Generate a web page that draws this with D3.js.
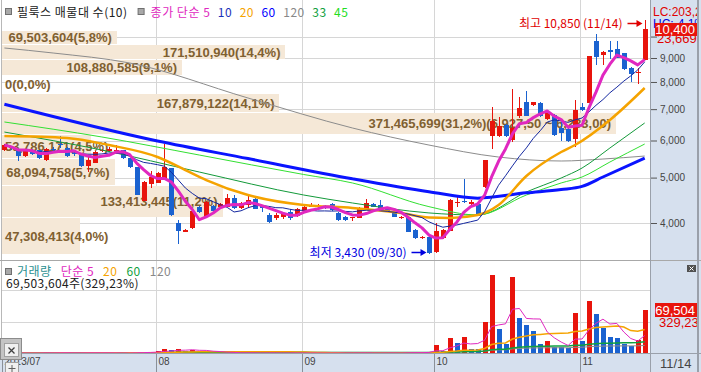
<!DOCTYPE html>
<html>
<head>
<meta charset="utf-8">
<script src="https://cdn.jsdelivr.net/npm/d3@7/dist/d3.min.js"></script>
<style>
  body { margin: 0; background: #fff; }
  svg { display: block; }
</style>
</head>
<body>
<svg id="chart" width="701" height="372"></svg>
<script>
// daily candles, [open, high, low, close]
const candles = [
  [5726, 5900, 5700, 5870], [5800, 5850, 5720, 5760], [5720, 5740, 5420, 5560], [5560, 5740, 5540, 5720],
  [5700, 5720, 5590, 5610], [5720, 5740, 5480, 5500], [5450, 5770, 5430, 5750], [5760, 5800, 5700, 5720],
  [5900, 6120, 5790, 5880], [5770, 5800, 5540, 5560], [5640, 5680, 5560, 5620], [5590, 5600, 5280, 5290],
  [5290, 5590, 5150, 5450], [5380, 5700, 5370, 5680], [5680, 5750, 5660, 5720], [5690, 5800, 5670, 5760],
  [5720, 5870, 5660, 5740], [5720, 5740, 5480, 5500], [5500, 5510, 5250, 5260], [5260, 5270, 4580, 4590],
  [4460, 4910, 4450, 4900], [4840, 5160, 4740, 5010], [4880, 5140, 4860, 5120], [4980, 5900, 4970, 5270],
  [5230, 5250, 4150, 4160], [4000, 4060, 3610, 3840], [3830, 3880, 3820, 3866], [3900, 4280, 3890, 4240],
  [4320, 4350, 4200, 4220], [4120, 4460, 4100, 4440], [4340, 4360, 4220, 4240], [4330, 4420, 4320, 4400],
  [4330, 4620, 4320, 4520], [4520, 4600, 4290, 4300], [4300, 4430, 4290, 4410], [4370, 4600, 4300, 4480],
  [4510, 4540, 4290, 4300], [4350, 4380, 4230, 4300], [4160, 4200, 4000, 4020], [4100, 4200, 4060, 4160],
  [4130, 4230, 4070, 4210], [4230, 4280, 4060, 4100], [4140, 4300, 4130, 4280], [4250, 4350, 4240, 4330],
  [4330, 4420, 4320, 4380], [4330, 4400, 4300, 4350], [4350, 4380, 4290, 4320], [4390, 4410, 4240, 4260],
  [4200, 4220, 4040, 4060], [4130, 4150, 4040, 4060], [4090, 4120, 4040, 4110], [4100, 4320, 4090, 4300],
  [4300, 4510, 4290, 4420], [4400, 4420, 4320, 4340], [4380, 4480, 4250, 4260], [4300, 4330, 4220, 4230],
  [4230, 4240, 4110, 4130], [4090, 4140, 4080, 4120], [4120, 4130, 3820, 3830], [3860, 3880, 3690, 3710],
  [3720, 3760, 3700, 3740], [3740, 3760, 3430, 3455], [3460, 4000, 3450, 3840], [3710, 3890, 3690, 3866],
  [3850, 4500, 3840, 4480], [4410, 4570, 4330, 4440], [4460, 4960, 4420, 4450], [4400, 4470, 4380, 4440],
  [4400, 4420, 4140, 4150], [4780, 5460, 4740, 5450], [6135, 7060, 5750, 6590], [6150, 6750, 6100, 6450],
  [6470, 6500, 6100, 6135], [6020, 7720, 5950, 6380], [6760, 7420, 6700, 7030], [7260, 7650, 6760, 6790],
  [7120, 7260, 7100, 7240], [7230, 7250, 6740, 6770], [6660, 6880, 6640, 6860], [6800, 6820, 6140, 6160],
  [6370, 6580, 6000, 6230], [6350, 6370, 5970, 5990], [6030, 7320, 5810, 6970], [7080, 7200, 6950, 6980],
  [7230, 9100, 7200, 9090], [9780, 10150, 8700, 9030], [9140, 9300, 8700, 9290], [9360, 9790, 8960, 9260],
  [9390, 9800, 8980, 8990], [9210, 9230, 8500, 8520], [8560, 8600, 8000, 8320], [8360, 8580, 7920, 8420],
  [8920, 10850, 8900, 10400]
];

// daily volume, thousand shares
const volumes = [
  1800, 1200, 2000, 1500, 1300, 1900, 2400, 1600, 2200, 1700, 1100, 2300, 2000, 2600, 1400, 1200,
  1800, 1500, 2100, 3000, 2500, 3200, 4000, 7500, 6000, 8000, 4500, 7000, 3500, 5000,
  2000, 1600, 2400, 1800, 1500, 2200, 1400, 1300, 2600, 1500, 1200, 1900, 1600, 2000, 1400, 1100,
  1500, 1700, 2300, 1600, 1300, 1800, 2200, 1500, 1200, 1700, 2100, 1400, 2900, 2400, 1800, 3600,
  14000, 4000, 24500, 16700, 26000, 7300, 7200, 50500, 123000, 39000, 16000, 121000, 56800, 45000,
  35400, 15000, 20000, 11500, 11400, 8800, 64600, 20800, 82800, 63000, 41000, 26600, 25500, 15600,
  12500, 21111, 69503.604
];

// first trading day of each month shown on the time axis
const monthTicks = [['2013/07', 0], ['08', 22], ['09', 43], ['10', 62], ['11', 83]];
const lastDate = '11/14';
const highDate = '11/14';
const lowDate = '09/30';

// volume at price (매물대), 10 bands from the highest close down
const bandVolumes = [69503604, 171510940, 108880585, 0, 167879122, 371465699, 53786171, 68094758, 133413445, 47308413];

// longer moving averages, [day index, price]
const ma20 = [[0, 6135], [9, 6075], [15, 5868], [22, 5532], [26, 5190], [29, 4941], [35, 4590], [43, 4370],
  [50, 4307], [57, 4200], [61, 4110], [64, 4100], [68, 4160], [71, 4370], [75, 5040], [80, 5670], [82, 5868],
  [87, 6637], [92, 7767]];
const ma33 = [[0, 6255], [14, 5726], [28, 5139], [43, 4590], [50, 4414], [61, 4203], [68, 4160], [75, 4659],
  [80, 4990], [83, 5241], [87, 5783], [92, 6540]];
const ma45 = [[0, 6572], [14, 6105], [28, 5587], [43, 5077], [50, 4870], [61, 4335], [68, 4160], [75, 4590],
  [80, 4870], [83, 5015], [87, 5398], [92, 5897]];
const ma60 = [[0, 7170], [22, 5985], [35, 5490], [50, 4970], [61, 4665], [68, 4520], [75, 4640], [80, 4715],
  [83, 4790], [86, 5015], [92, 5505]];
const ma120 = [[0, 9454], [7, 9224], [18, 8782], [35, 7394], [50, 6381], [61, 5868], [71, 5532], [80, 5425],
  [86, 5478], [92, 5559]];

const priceTicks = [4000, 5000, 6000, 7000, 8000, 9000, 10000];
const sideNote = '23,669';

// ---------------------------------------------------------------------------
const W = 701;
const H = 372;
const plotRight = 651;
const priceBottom = 258;
const volTop = 261;
const volBottom = 354;

const red = '#e8140c';
const blue = '#1a62d0';
const magenta = '#e028c0';
const orange = '#f5a300';
const gridColor = '#d6d6d6';
const panelColor = '#d6e0ee';
const numFont = '"Liberation Sans Narrow", "Arial Narrow", "Liberation Sans", sans-serif';
const krFont = '"Liberation Sans Narrow", "Noto Sans CJK KR", sans-serif';

const fmt = d3.format(',');
const dec = (v, n) => v.toFixed(n).replace('.', ',');
const fmt2 = v => d3.format(',.2f')(v).replace(/\.(\d+)$/, ',$1');
const sma = (vals, n) => vals.map((_, i) => d3.mean(vals.slice(Math.max(0, i - n + 1), i + 1)));

const x = d3.scaleLinear().domain([0, candles.length - 1]).range([4.4, 644.7]);
const y = d3.scaleLog().domain([3368, 11969]).range([priceBottom, 0]);
const yv = d3.scaleLinear().domain([0, 100000]).range([volBottom, 290]);
const cx = i => Math.round(x(i));

const svg = d3.select('#chart');
const defs = svg.append('defs');
defs.append('clipPath').attr('id', 'clip-price')
  .append('rect').attr('x', 2).attr('y', 0).attr('width', plotRight - 2).attr('height', priceBottom);
defs.append('clipPath').attr('id', 'clip-vol')
  .append('rect').attr('x', 2).attr('y', volTop).attr('width', plotRight - 2).attr('height', volBottom - volTop);
defs.append('clipPath').attr('id', 'clip-side')
  .append('rect').attr('x', plotRight).attr('y', 0).attr('width', 46).attr('height', volBottom);

// backgrounds
svg.append('rect').attr('width', W).attr('height', H).attr('fill', '#fff');
svg.append('rect').attr('x', plotRight).attr('width', W - plotRight).attr('height', H).attr('fill', panelColor);
svg.append('rect').attr('y', volBottom).attr('width', W).attr('height', H - volBottom).attr('fill', panelColor);

// grid
const gridX = monthTicks.slice(1).map(d => cx(d[1]) - 2 + 0.5);
const grid = svg.append('g').attr('stroke', gridColor).attr('shape-rendering', 'crispEdges');
grid.selectAll('.vx')
    .data(gridX)
  .enter().append('line')
    .attr('x1', d => d).attr('x2', d => d)
    .attr('y1', 0).attr('y2', volBottom);
grid.selectAll('.hy')
    .data(priceTicks)
  .enter().append('line')
    .attr('x1', 2).attr('x2', plotRight)
    .attr('y1', d => Math.round(y(d)) + 0.5).attr('y2', d => Math.round(y(d)) + 0.5);
grid.selectAll('.hv')
    .data([50000, 100000])
  .enter().append('line')
    .attr('x1', 2).attr('x2', plotRight)
    .attr('y1', d => Math.round(yv(d)) + 0.5).attr('y2', d => Math.round(yv(d)) + 0.5);

// volume at price bands
const closes = candles.map(d => d[3]);
const cTop = d3.max(closes);
const cBottom = d3.min(closes);
const step = (cTop - cBottom) / bandVolumes.length;
const total = d3.sum(bandVolumes);
const maxBand = d3.max(bandVolumes);
const bw = d3.scaleLinear().domain([0, maxBand]).range([0, 614]);
const bands = bandVolumes.map((v, k) => ({ v, hi: cTop - k * step, lo: cTop - (k + 1) * step }));

const bandG = svg.append('g').attr('clip-path', 'url(#clip-price)');
bands.forEach((b) => {
  const y0 = Math.round(y(b.hi)) + 2;
  const y1 = Math.round(y(b.lo)) + 1;
  const right = 2 + bw(b.v);
  if (b.v > 0) {
    bandG.append('rect')
        .attr('x', 2).attr('y', y0)
        .attr('width', bw(b.v)).attr('height', y1 - y0)
        .attr('fill', '#f5e8d7')
        .attr('shape-rendering', 'crispEdges');
  }
  let label = `${fmt(b.v)}(${dec(b.v / total * 100, 1)}%)`;
  if (b.v === maxBand) label += `(${fmt2(b.hi)} ~ ${fmt2(b.lo)})`;
  const t = bandG.append('text')
      .attr('y', (y0 + y1) / 2 + 4.5)
      .attr('fill', '#806030')
      .style('font-family', '"Liberation Sans", Arial, sans-serif')
      .style('font-size', '13px')
      .style('font-weight', 'bold')
      .text(label);
  const w = t.node().getComputedTextLength();
  if (right - 5 - w < 3) t.attr('x', 5);
  else t.attr('x', right - 5).attr('text-anchor', 'end');
});

// candles
const candleG = svg.append('g').attr('clip-path', 'url(#clip-price)').attr('shape-rendering', 'crispEdges');
const c = candleG.selectAll('g')
    .data(candles)
  .enter().append('g')
    .attr('fill', d => (d[3] >= d[0] ? red : blue))
    .attr('stroke', d => (d[3] >= d[0] ? red : blue));
c.append('line')
    .attr('x1', (d, i) => cx(i) + 0.5).attr('x2', (d, i) => cx(i) + 0.5)
    .attr('y1', d => y(d[1])).attr('y2', d => y(d[2]));
c.append('rect')
    .attr('stroke', 'none')
    .attr('x', (d, i) => cx(i) - 2)
    .attr('width', 5)
    .attr('y', d => Math.round(y(Math.max(d[0], d[3]))))
    .attr('height', d => Math.max(1, Math.round(Math.abs(y(d[0]) - y(d[3])))));

// moving averages
const idxLine = d3.line().x(d => x(d[0])).y(d => y(d[1]));
const smooth = d3.line().x(d => x(d[0])).y(d => y(d[1])).curve(d3.curveMonotoneX);
const ma5 = sma(closes, 5).map((v, i) => [i, v]);
const ma10 = sma(closes, 10).map((v, i) => [i, v]);
const maG = svg.append('g').attr('clip-path', 'url(#clip-price)').attr('fill', 'none');
[
  [ma120, smooth, '#8c8c8c', 1],
  [ma33, smooth, '#139a3a', 1],
  [ma45, smooth, '#33e033', 1],
  [ma60, smooth, '#0a14ff', 3],
  [ma20, smooth, orange, 2.5],
  [ma10, idxLine, '#1428a0', 1],
  [ma5, idxLine, magenta, 3],
].forEach(([pts, gen, color, width]) => {
  maG.append('path')
      .attr('d', gen(pts))
      .attr('stroke', color)
      .attr('stroke-width', width)
      .attr('stroke-linejoin', 'round');
});

// highest / lowest markers
const hiIdx = d3.maxIndex(candles, d => d[1]);
const loIdx = d3.minIndex(candles, d => d[2]);
const hiVal = candles[hiIdx][1];
const loVal = candles[loIdx][2];
function marker(i, val, dy, color, label) {
  const tip = cx(i) - 2.5;
  const ay = Math.round(y(val) + dy) + 0.5;
  svg.append('path')
      .attr('d', `M${tip - 15},${ay}H${tip - 4}`)
      .attr('stroke', color).attr('stroke-width', 1.5);
  svg.append('path')
      .attr('d', `M${tip - 6},${ay - 3.5}L${tip},${ay}L${tip - 6},${ay + 3.5}Z`)
      .attr('fill', color);
  svg.append('text')
      .attr('x', tip - 20).attr('y', ay + 4.5)
      .attr('text-anchor', 'end')
      .attr('fill', color)
      .style('font-family', krFont).style('font-size', '12px')
      .text(label);
}
marker(hiIdx, hiVal, 3, '#e00000', `최고 ${fmt(hiVal)} (${highDate})`);
marker(loIdx, loVal, -2, '#0000e0', `최저 ${fmt(loVal)} (${lowDate})`);

// volume bars
const volG = svg.append('g').attr('clip-path', 'url(#clip-vol)');
volG.selectAll('rect')
    .data(volumes)
  .enter().append('rect')
    .attr('shape-rendering', 'crispEdges')
    .attr('x', (d, i) => cx(i) - 2)
    .attr('width', 5)
    .attr('y', d => Math.min(volBottom - 1, Math.round(yv(d))))
    .attr('height', d => Math.max(1, volBottom - Math.round(yv(d))))
    .attr('fill', (d, i) => (i === 0 || d > volumes[i - 1] ? red : blue));
const vLine = d3.line().x(d => x(d[0])).y(d => yv(d[1]));
[
  [120, '#8c8c8c', 1],
  [60, '#10a040', 1.5],
  [20, orange, 1.5],
  [5, magenta, 1],
].forEach(([n, color, width]) => {
  volG.append('path')
      .attr('d', vLine(sma(volumes, n).map((v, i) => [i, v])))
      .attr('fill', 'none')
      .attr('stroke', color)
      .attr('stroke-width', width);
});

// frame lines
const frame = svg.append('g').attr('shape-rendering', 'crispEdges');
frame.append('line').attr('x1', 1.5).attr('x2', 1.5).attr('y1', 0).attr('y2', volBottom).attr('stroke', '#b8b8b8');
frame.append('line').attr('x1', 0).attr('x2', W).attr('y1', 260.5).attr('y2', 260.5).attr('stroke', '#a8a8a8');
frame.append('line').attr('x1', 0).attr('x2', W).attr('y1', volBottom - 0.5).attr('y2', volBottom - 0.5).attr('stroke', '#9aa0aa');
frame.append('line').attr('x1', plotRight - 0.5).attr('x2', plotRight - 0.5).attr('y1', 0).attr('y2', H).attr('stroke', '#9aa0aa');
frame.append('rect').attr('x', 697).attr('y', 0).attr('width', 2).attr('height', H).attr('fill', '#9aa0aa');

// legends
function legend(items, x0, yBase, gap) {
  let px = x0;
  items.forEach(([label, color]) => {
    const t = svg.append('text')
        .attr('x', px).attr('y', yBase)
        .attr('fill', color)
        .style('font-family', krFont).style('font-size', '12px')
        .style('letter-spacing', '0.5px')
        .text(label);
    px += t.node().getComputedTextLength() + gap;
  });
  return px;
}
function icon(px, py) {
  svg.append('rect')
      .attr('x', px + 0.5).attr('y', py + 0.5).attr('width', 6).attr('height', 6)
      .attr('fill', '#a8a8a8').attr('stroke', '#707070');
}
icon(5, 8);
const afterTitle = legend([[`필룩스 매물대 수(${bandVolumes.length})`, '#202020']], 17, 17, 9);
icon(afterTitle + 1, 8);
legend([
  ['종가 단순 5', magenta],
  ['10', '#1a30b8'],
  ['20', orange],
  ['60', '#0000ff'],
  ['120', '#888888'],
  ['33', '#10a040'],
  ['45', '#22dd22'],
], afterTitle + 14, 17, 7.5);

const lastVol = volumes[volumes.length - 1];
const prevVol = volumes[volumes.length - 2];
icon(5, 268);
legend([
  ['거래량', '#2a9090'],
  ['단순 5', magenta],
  ['20', orange],
  ['60', '#10a040'],
  ['120', '#888888'],
], 17, 276, 9);
svg.append('text')
    .attr('x', 6).attr('y', 288)
    .attr('fill', '#202020')
    .style('font-family', krFont).style('font-size', '12px')
    .style('letter-spacing', '0.3px')
    .text(`${fmt(Math.round(lastVol * 1000))}주(${dec(lastVol / prevVol * 100, 2)}%)`);

// price axis
const yAxis = d3.axisRight(y)
    .tickValues(priceTicks)
    .tickSize(6)
    .tickPadding(3)
    .tickFormat(d => (d >= 10000 ? '' : fmt(d)));
const ya = svg.append('g')
    .attr('transform', `translate(${plotRight},0)`)
    .attr('font-family', numFont)
    .attr('font-size', 13)
    .call(yAxis);
ya.select('.domain').remove();
ya.selectAll('line').attr('stroke', '#555');
ya.selectAll('text').attr('fill', '#444');

// volume axis
const vAxis = d3.axisRight(yv)
    .tickValues(d3.range(10000, 140001, 10000))
    .tickSize(4)
    .tickPadding(4)
    .tickFormat(d => (d === 100000 ? fmt(d) : ''));
const va = svg.append('g')
    .attr('transform', `translate(${plotRight},0)`)
    .attr('clip-path', 'url(#clip-side)')
    .attr('font-family', numFont)
    .attr('font-size', 13)
    .call(vAxis);
va.select('.domain').remove();
va.selectAll('line').attr('stroke', '#666').attr('x2', d => (d === 100000 ? 6 : 4));
va.selectAll('text').attr('fill', '#444');

// side labels
const lastClose = closes[closes.length - 1];
const side = svg.append('g')
    .attr('clip-path', 'url(#clip-side)')
    .style('font-family', numFont)
    .style('font-size', '12px');
side.append('text').attr('x', 653).attr('y', 16).attr('fill', '#e00000')
    .text(`LC:${dec((lastClose - loVal) / loVal * 100, 1)}%`);
side.append('text').attr('x', 653).attr('y', 28).attr('fill', '#0000e0')
    .text(`HC:${dec((lastClose - hiVal) / hiVal * 100, 1)}%`);
side.append('text').attr('x', 657).attr('y', 43).attr('fill', '#e00000')
    .style('font-size', '13px').text(sideNote);
const ly = Math.round(y(lastClose));
side.append('rect').attr('x', 655).attr('y', ly - 6).attr('width', 42).attr('height', 13).attr('fill', '#e8140c');
side.append('text').attr('x', 695).attr('y', ly + 5).attr('text-anchor', 'end').attr('fill', '#fff')
    .style('font-size', '13px').text(fmt(lastClose));
const lvy = Math.round(yv(lastVol));
side.append('rect').attr('x', 655).attr('y', lvy - 7).attr('width', 42).attr('height', 14).attr('fill', '#e8140c');
side.append('text').attr('x', 695).attr('y', lvy + 5).attr('text-anchor', 'end').attr('fill', '#fff')
    .style('font-size', '13px').text(fmt(Math.round(lastVol)));
side.append('text').attr('x', 659).attr('y', lvy + 17).attr('fill', '#e00000')
    .style('font-size', '13px').text(`${dec(lastVol / prevVol * 100, 2)}%`);
side.append('rect').attr('x', 687).attr('y', 265).attr('width', 9).attr('height', 7).attr('fill', '#505050');
side.append('path').attr('d', 'M689.5,266.5L693.5,270.5M693.5,266.5L689.5,270.5').attr('stroke', '#fff');

// time axis
const xAxis = d3.axisBottom(x)
    .tickValues(monthTicks.map(d => d[1]))
    .tickFormat((d, i) => monthTicks[i][0])
    .tickSize(H - volBottom);
const xa = svg.append('g')
    .attr('transform', `translate(-2,${volBottom})`)
    .attr('font-family', numFont)
    .attr('font-size', 13)
    .call(xAxis);
xa.select('.domain').remove();
xa.selectAll('.tick').attr('transform', d => `translate(${cx(d) + 0.5},0)`);
xa.selectAll('line').attr('stroke', '#8a9098');
xa.selectAll('text')
    .attr('x', 2).attr('y', 4).attr('dy', '0.71em')
    .attr('text-anchor', 'start')
    .attr('fill', '#444');
svg.append('text')
    .attr('x', 660).attr('y', 368)
    .attr('fill', '#444')
    .style('font-family', numFont).style('font-size', '13px')
    .text(lastDate);

// panel close buttons
svg.append('rect').attr('x', 0.5).attr('y', 338.5).attr('width', 21).attr('height', 21)
    .attr('fill', '#c4c4c4').attr('stroke', '#8c8c8c');
svg.append('rect').attr('x', 4.5).attr('y', 343.5).attr('width', 14).attr('height', 13)
    .attr('fill', '#f0f0f0').attr('stroke', '#a0a0a0');
svg.append('path').attr('d', 'M8.5,347.5L14.5,353.5M14.5,347.5L8.5,353.5').attr('stroke', '#404040').attr('stroke-width', 1.3);
svg.append('rect').attr('x', 5.5).attr('y', 362.5).attr('width', 13).attr('height', 12)
    .attr('fill', '#f0f0f0').attr('stroke', '#a0a0a0');
svg.append('path').attr('d', 'M12,365V372M8.5,368.5H15.5').attr('stroke', '#606060');
</script>
</body>
</html>
